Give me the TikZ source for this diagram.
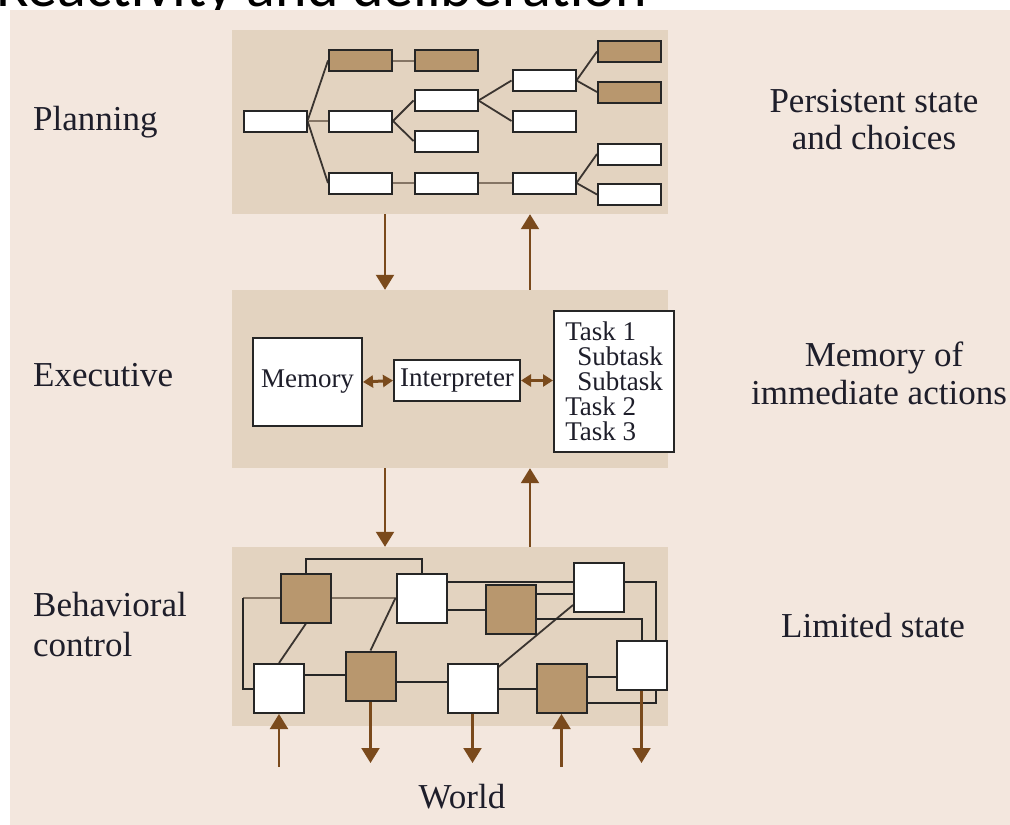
\documentclass[tikz,border=0pt]{standalone}
\usepackage{fontspec}
\setmainfont{Liberation Serif}
\newfontfamily\titlefont{Carlito}
\usetikzlibrary{arrows.meta,calc}
\pgfdeclarelayer{bg}
\pgfdeclarelayer{edges}
\pgfsetlayers{bg,edges,main}
\definecolor{outerbg}{HTML}{F3E7DE}
\definecolor{panelbg}{HTML}{E3D3C0}
\definecolor{boxbrown}{HTML}{B8976E}
\definecolor{arrbrown}{HTML}{7A4A1C}
\definecolor{edgegray}{HTML}{857565}
\definecolor{edgedark}{HTML}{3A3430}
\definecolor{txt}{HTML}{1E1E2A}
\begin{document}
\begin{tikzpicture}[x=1pt,y=-1pt,
  panel/.style={fill=panelbg, draw=none, inner sep=0, minimum width=436pt},
  pbox/.style={draw=black!85, line width=2pt, fill=white, inner sep=0, minimum width=63pt, minimum height=21pt},
  pboxb/.style={pbox, fill=boxbrown},
  sq/.style={draw=black!85, line width=2pt, fill=white, inner sep=0, minimum width=50pt, minimum height=49pt},
  sqb/.style={sq, fill=boxbrown},
  ebox/.style={draw=black!85, line width=2pt, fill=white, inner sep=0, font=\fontsize{27}{25}\selectfont, text=txt},
  lbl/.style={font=\fontsize{35}{40}\selectfont, text=txt, inner sep=0},
  pline/.style={draw=edgedark, line width=1.8pt},
  hline/.style={draw=edgegray, line width=2pt},
  bline/.style={draw=black!85, line width=2pt},
  bgray/.style={draw=edgegray, line width=2pt},
  arr/.style={draw=arrbrown, line width=2.2pt, -{Triangle[width=18pt,length=15pt]}, fill=arrbrown},
  darr/.style={draw=arrbrown, line width=3pt, {Triangle[width=12pt,length=10pt]}-{Triangle[width=12pt,length=10pt]}},
]
\useasboundingbox (0,0) rectangle (1010,825);
\clip (0,0) rectangle (1010,825);

\begin{pgfonlayer}{bg}
  \node[anchor=base west, inner sep=0, text=black, font=\titlefont\fontsize{60}{60}\selectfont] (title) at (-4,6) {Reactivity and deliberation};
  \fill[outerbg] (10,10) rectangle (1010,825);
  \node[panel, minimum height=184pt] (plan) at (450,122) {};
  \node[panel, minimum height=178pt] (exec) at (450,379) {};
  \node[panel, minimum height=179pt] (beh) at (450,636.5) {};
\end{pgfonlayer}

% side labels
\node[lbl, anchor=base west] (lplan) at (33,130) {Planning};
\node[lbl, anchor=base west] (lexec) at (33,386) {Executive};
\node[lbl, anchor=base west] (lbeh1) at (33,616) {Behavioral};
\node[lbl, anchor=base west] (lbeh2) at (33,656) {control};
\node[lbl, anchor=base] (rplan1) at (874,112) {Persistent state};
\node[lbl, anchor=base] (rplan2) at (874,149) {and choices};
\node[lbl, anchor=base] (rexec1) at (884,366) {Memory of};
\node[lbl, anchor=base] (rexec2) at (879,404) {immediate actions};
\node[lbl, anchor=base] (rbeh) at (873,637) {Limited state};
\node[lbl, anchor=base] (world) at (462,808) {World};

% planning tree
\node[pbox]  (root) at (275,121) {};
\node[pboxb] (b1) at (360.5,60.5) {};
\node[pboxb] (b2) at (446,60.5) {};
\node[pbox]  (m1) at (360.5,121) {};
\node[pbox]  (m2) at (446,100.5) {};
\node[pbox]  (m3) at (446,141) {};
\node[pbox]  (m4) at (544,80.5) {};
\node[pbox]  (m5) at (544,121) {};
\node[pboxb] (r1) at (629.5,51.5) {};
\node[pboxb] (r2) at (629.5,92) {};
\node[pbox]  (r3) at (629.5,154) {};
\node[pbox]  (r4) at (629.5,194.5) {};
\node[pbox]  (l1) at (360.5,183) {};
\node[pbox]  (l2) at (446,183) {};
\node[pbox]  (l3) at (544,183) {};

\begin{pgfonlayer}{edges}
  \draw[pline] (root.east) -- (b1.west);
  \draw[hline] (root.east) -- (m1.west);
  \draw[pline] (root.east) -- (l1.west);
  \draw[hline] (b1.east) -- (b2.west);
  \draw[pline] (m1.east) -- (m2.west);
  \draw[pline] (m1.east) -- (m3.west);
  \draw[pline] (m2.east) -- (m4.west);
  \draw[pline] (m2.east) -- (m5.west);
  \draw[pline] (m4.east) -- (r1.west);
  \draw[pline] (m4.east) -- (r2.west);
  \draw[hline] (l1.east) -- (l2.west);
  \draw[hline] (l2.east) -- (l3.west);
  \draw[pline] (l3.east) -- (r3.west);
  \draw[pline] (l3.east) -- (r4.west);
\end{pgfonlayer}

% executive
\node[ebox, minimum width=109pt, minimum height=88pt] (mem) at (307.5,382) {Memory};
\node[ebox, minimum width=126pt, minimum height=41pt] (interp) at (457,380.5) {Interpreter};
\node[ebox, minimum width=120pt, minimum height=141pt, align=left] (tasks) at (614,381.5)
  {Task 1\\\hspace*{12pt}Subtask\\\hspace*{12pt}Subtask\\Task 2\\Task 3};
\draw[darr] (mem.east) -- (interp.west);
\draw[darr] (interp.east) -- (tasks.west |- interp.east);

% behavioral control
\node[sqb] (A) at (306,598) {};
\node[sq]  (B) at (421.5,598) {};
\node[sqb] (C) at (510.5,609) {};
\node[sq]  (D) at (599,587.5) {};
\node[sq]  (E) at (279,688.5) {};
\node[sqb] (F) at (370.5,676) {};
\node[sq]  (G) at (472.5,688.5) {};
\node[sqb] (H) at (561.5,688.5) {};
\node[sq]  (I) at (641.5,665) {};

\coordinate (y559) at (0,559);
\coordinate (y582) at (0,582);
\coordinate (y594) at (0,594);
\coordinate (y610) at (0,610);
\coordinate (y619) at (0,619);
\coordinate (y675) at (0,675);
\coordinate (y677) at (0,677);
\coordinate (y682) at (0,682);
\coordinate (y703) at (0,703);
\coordinate (lx) at (243,640);
\coordinate (rx) at (656,640);

\begin{pgfonlayer}{edges}
  \draw[bline] (A.north) -- (A.north |- y559) -- (B.north |- y559) -- (B.north);
  \draw[bgray] (A.west) -- (A.west -| lx);
  \draw[bline] (A.west -| lx) -- (lx) |- (E.west);
  \draw[bgray] (A.east) -- (B.west);
  \draw[pline] (F.north) -- (B.west);
  \draw[pline] (A.south) -- (E.north);
  \draw[bline] (E.east |- y675) -- (F.west |- y675);
  \draw[bline] (F.east |- y682) -- (G.west |- y682);
  \draw[bline] (G.east) -- (H.west);
  \draw[pline] ($(G.north east)+(0,4)$) -- ($(D.south west)+(0,-8)$);
  \draw[bline] (B.east |- y582) -- (D.west |- y582);
  \draw[bline] (B.east |- y610) -- (C.west |- y610);
  \draw[bline] (C.east |- y594) -- (D.west |- y594);
  \draw[bline] (C.east |- y619) -| (I.north);
  \draw[bline] (D.east |- y582) -| (rx) |- (H.east |- y703);
  \draw[bline] (H.east |- y677) -- (I.west |- y677);
\end{pgfonlayer}

% inter-layer arrows
\coordinate (dx) at (385,0);
\coordinate (ux) at (530,0);
\draw[arr] (plan.south -| dx) -- (exec.north -| dx);
\draw[arr] (exec.north -| ux) -- (plan.south -| ux);
\draw[arr] (exec.south -| dx) -- (beh.north -| dx);
\draw[arr] (beh.north -| ux) -- (exec.south -| ux);

% world arrows
\coordinate (wup) at (0,767);
\coordinate (wdown) at (0,763);
\draw[arr] (E.south |- wup) -- (E.south);
\draw[arr] (F.south) -- (F.south |- wdown);
\draw[arr] (G.south) -- (G.south |- wdown);
\draw[arr] (H.south |- wup) -- (H.south);
\draw[arr] (I.south) -- (I.south |- wdown);
\end{tikzpicture}
\end{document}
